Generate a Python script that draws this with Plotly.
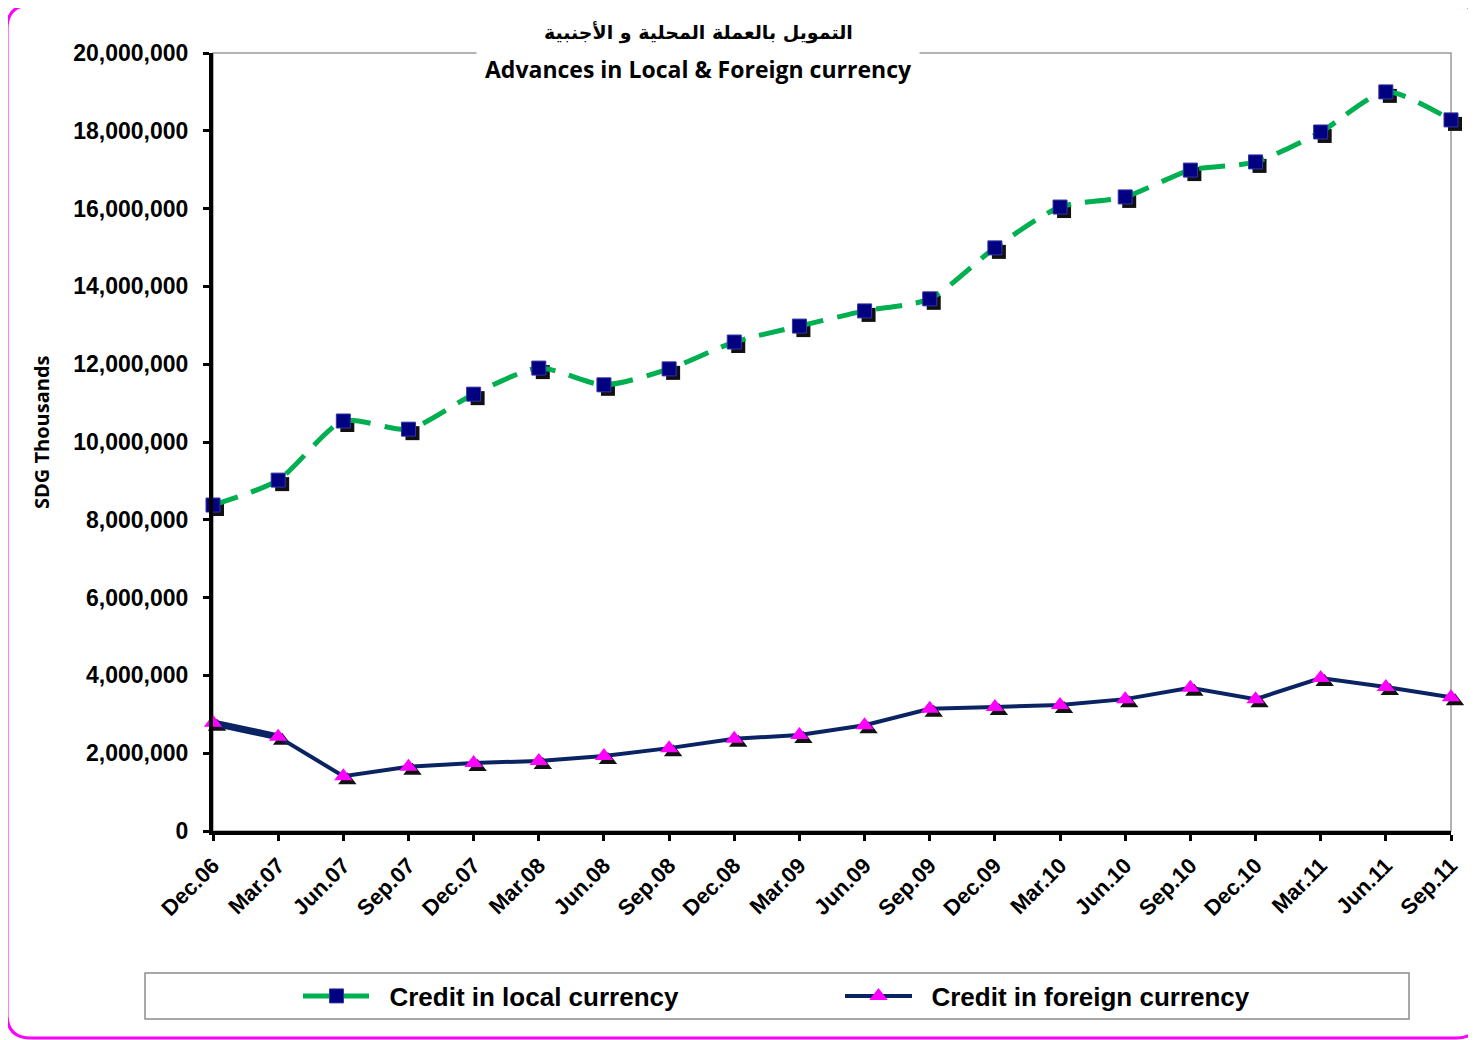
import plotly.graph_objects as go

# ---------------- data ----------------
quarters = ["Dec.06", "Mar.07", "Jun.07", "Sep.07", "Dec.07", "Mar.08", "Jun.08", "Sep.08",
            "Dec.08", "Mar.09", "Jun.09", "Sep.09", "Dec.09", "Mar.10", "Jun.10", "Sep.10",
            "Dec.10", "Mar.11", "Jun.11", "Sep.11"]
local_credit = [8380000, 9020000, 10540000, 10330000, 11230000, 11900000, 11470000, 11880000,
                12570000, 12980000, 13370000, 13680000, 14990000, 16040000, 16300000, 16990000,
                17200000, 17970000, 19000000, 18280000]
foreign_credit = [2780000, 2420000, 1410000, 1650000, 1750000, 1800000, 1930000, 2130000,
                  2370000, 2470000, 2720000, 3140000, 3190000, 3240000, 3390000, 3680000,
                  3390000, 3930000, 3700000, 3440000]
y_ticks = [0, 2000000, 4000000, 6000000, 8000000, 10000000, 12000000, 14000000,
           16000000, 18000000, 20000000]

# ---------------- layout geometry (page pixels; page has an 8px body margin) ----------------
OFF = 8
W, H = 1476 - OFF, 1040 - OFF
PLOT_L, PLOT_R, PLOT_T, PLOT_B = 213, 1451, 53, 831      # page px of visible plot area
EXTRA = 8                                                # extra room for shadow of last point
L = PLOT_L - OFF
T = PLOT_T - OFF
B = H - (PLOT_B - OFF)
R = W - (PLOT_R + EXTRA - OFF)
PW_TOT = W - L - R
PW_VIS = PLOT_R - PLOT_L
PH = H - T - B
YMAX = 20000000
n = len(quarters)
vis_frac = PW_VIS / PW_TOT

def px_x(p):
    return (p - PLOT_L) / PW_TOT

def px_y(p):
    return (PLOT_B - p) / PH

# shadow offset (px) via shifted ranges of a hidden subplot
sh = 4
unit_x = (n - 1) / PW_VIS          # category units per px
dx = sh * unit_x
dy = sh * YMAX / PH

BOLD = dict(family="Liberation Sans, Arial", color="black", weight="bold")

fig = go.Figure()

# shadow markers on hidden subplot (x/y)
fig.add_trace(go.Scatter(x=quarters, y=local_credit, mode="markers", xaxis="x", yaxis="y",
                         marker=dict(symbol="square", size=14, color="#111111"),
                         showlegend=False, hoverinfo="skip", cliponaxis=False))
fig.add_trace(go.Scatter(x=quarters, y=foreign_credit, mode="markers", xaxis="x", yaxis="y",
                         marker=dict(symbol="triangle-up", size=16, color="#111111"),
                         showlegend=False, hoverinfo="skip", cliponaxis=False))

# main series on visible subplot (x2/y2)
fig.add_trace(go.Scatter(x=quarters, y=local_credit, mode="lines+markers", xaxis="x2", yaxis="y2",
                         name="\u00a0\u00a0Credit in local currency",
                         line=dict(color="#00B050", width=5, dash="26px,14px", shape="spline",
                                   smoothing=0.7),
                         marker=dict(symbol="square", size=14, color="#000080",
                                     line=dict(color="#3333AA", width=1)),
                         cliponaxis=False))
# thicker first segment of the foreign-currency line (as in the original)
fig.add_trace(go.Scatter(x=quarters[:2], y=foreign_credit[:2], mode="lines", xaxis="x2", yaxis="y2",
                         line=dict(color="#0A2463", width=7), showlegend=False,
                         hoverinfo="skip", cliponaxis=False))
fig.add_trace(go.Scatter(x=quarters, y=foreign_credit, mode="lines+markers", xaxis="x2", yaxis="y2",
                         name="\u00a0\u00a0Credit in foreign currency",
                         line=dict(color="#0A2463", width=4),
                         marker=dict(symbol="triangle-up", size=16, color="#FF00FF"),
                         cliponaxis=False))

fig.update_layout(
    width=W, height=H, autosize=False,
    margin=dict(l=L, r=R, t=T, b=B, autoexpand=False),
    paper_bgcolor="white", plot_bgcolor="rgba(0,0,0,0)",
    xaxis=dict(type="category", categoryarray=quarters, domain=[0, 1], anchor="y",
               range=[-dx, -dx + (n - 1) / vis_frac], automargin=False,
               visible=False, showgrid=False, zeroline=False),
    yaxis=dict(range=[dy, YMAX + dy], domain=[0, 1], anchor="x", automargin=False,
               visible=False, showgrid=False, zeroline=False),
    xaxis2=dict(type="category", categoryarray=quarters, domain=[0, vis_frac], range=[0, n - 1],
                anchor="y2", automargin=False,
                showline=True, linecolor="black", linewidth=4,
                ticks="outside", ticklen=6, tickwidth=3, tickcolor="black",
                tickmode="array", tickvals=quarters, ticktext=quarters,
                tickangle=-45, tickfont=dict(size=22, **BOLD), ticklabelstandoff=3,
                showgrid=False, zeroline=False),
    yaxis2=dict(range=[0, YMAX], domain=[0, 1], anchor="x2", automargin=False,
                showline=True, linecolor="black", linewidth=4,
                ticks="outside", ticklen=6, tickwidth=3, tickcolor="black",
                tickmode="array", tickvals=y_ticks, tickformat=",d",
                tickfont=dict(size=23, **BOLD), ticklabelstandoff=10,
                showgrid=False, zeroline=False),
    showlegend=True,
    legend=dict(orientation="h", x=px_x(298), y=px_y(996), xanchor="left", yanchor="middle",
                font=dict(size=26, **BOLD), entrywidth=460, itemwidth=67,
                bgcolor="rgba(0,0,0,0)", borderwidth=0),
)

shapes = [
    # grey plot border (top/right)
    dict(type="rect", xref="paper", yref="paper", x0=0, y0=0, x1=vis_frac, y1=1,
         line=dict(color="#9A9A9A", width=1.5), layer="below"),
    # legend box
    dict(type="rect", xref="paper", yref="paper", x0=px_x(145), x1=px_x(1409),
         y0=px_y(1019), y1=px_y(973), line=dict(color="#8C8C8C", width=1.5), layer="below"),
]

# magenta rounded outer border
x0p, x1p, y0p, y1p, rr = 7, 1480, 5, 1038, 24
def P(xp, yp):
    return f"{px_x(xp):.6f},{px_y(yp):.6f}"
path = (f"M {P(x0p + rr, y0p)} L {P(x1p - rr, y0p)} Q {P(x1p, y0p)} {P(x1p, y0p + rr)} "
        f"L {P(x1p, y1p - rr)} Q {P(x1p, y1p)} {P(x1p - rr, y1p)} "
        f"L {P(x0p + rr, y1p)} Q {P(x0p, y1p)} {P(x0p, y1p - rr)} "
        f"L {P(x0p, y0p + rr)} Q {P(x0p, y0p)} {P(x0p + rr, y0p)} Z")
shapes.append(dict(type="path", xref="paper", yref="paper", path=path,
                   line=dict(color="#FF00FF", width=3), layer="below"))
fig.update_layout(shapes=shapes)

# title block with white background hiding the top border
fig.add_annotation(xref="paper", yref="paper", x=px_x(698), y=px_y(52),
                   xanchor="center", yanchor="middle", showarrow=False,
                   text=" ", width=440, height=64, bgcolor="white")
fig.add_annotation(xref="paper", yref="paper", x=px_x(698), y=px_y(33),
                   xanchor="center", yanchor="middle", showarrow=False,
                   text="التمويل بالعملة المحلية و الأجنبية",
                   font=dict(family="DejaVu Sans, Noto Sans", size=19, color="black", weight="bold"))
fig.add_annotation(xref="paper", yref="paper", x=px_x(698), y=px_y(69),
                   xanchor="center", yanchor="middle", showarrow=False,
                   text="Advances in Local & Foreign currency",
                   font=dict(family="Open Sans, Lato", size=23, color="black", weight="bold"))
fig.add_annotation(xref="paper", yref="paper", x=px_x(41), y=px_y(432),
                   xanchor="center", yanchor="middle", showarrow=False, textangle=-90,
                   text="SDG Thousands",
                   font=dict(family="Open Sans, Lato", size=20, color="black", weight="bold"))

fig.write_html("out.html")
